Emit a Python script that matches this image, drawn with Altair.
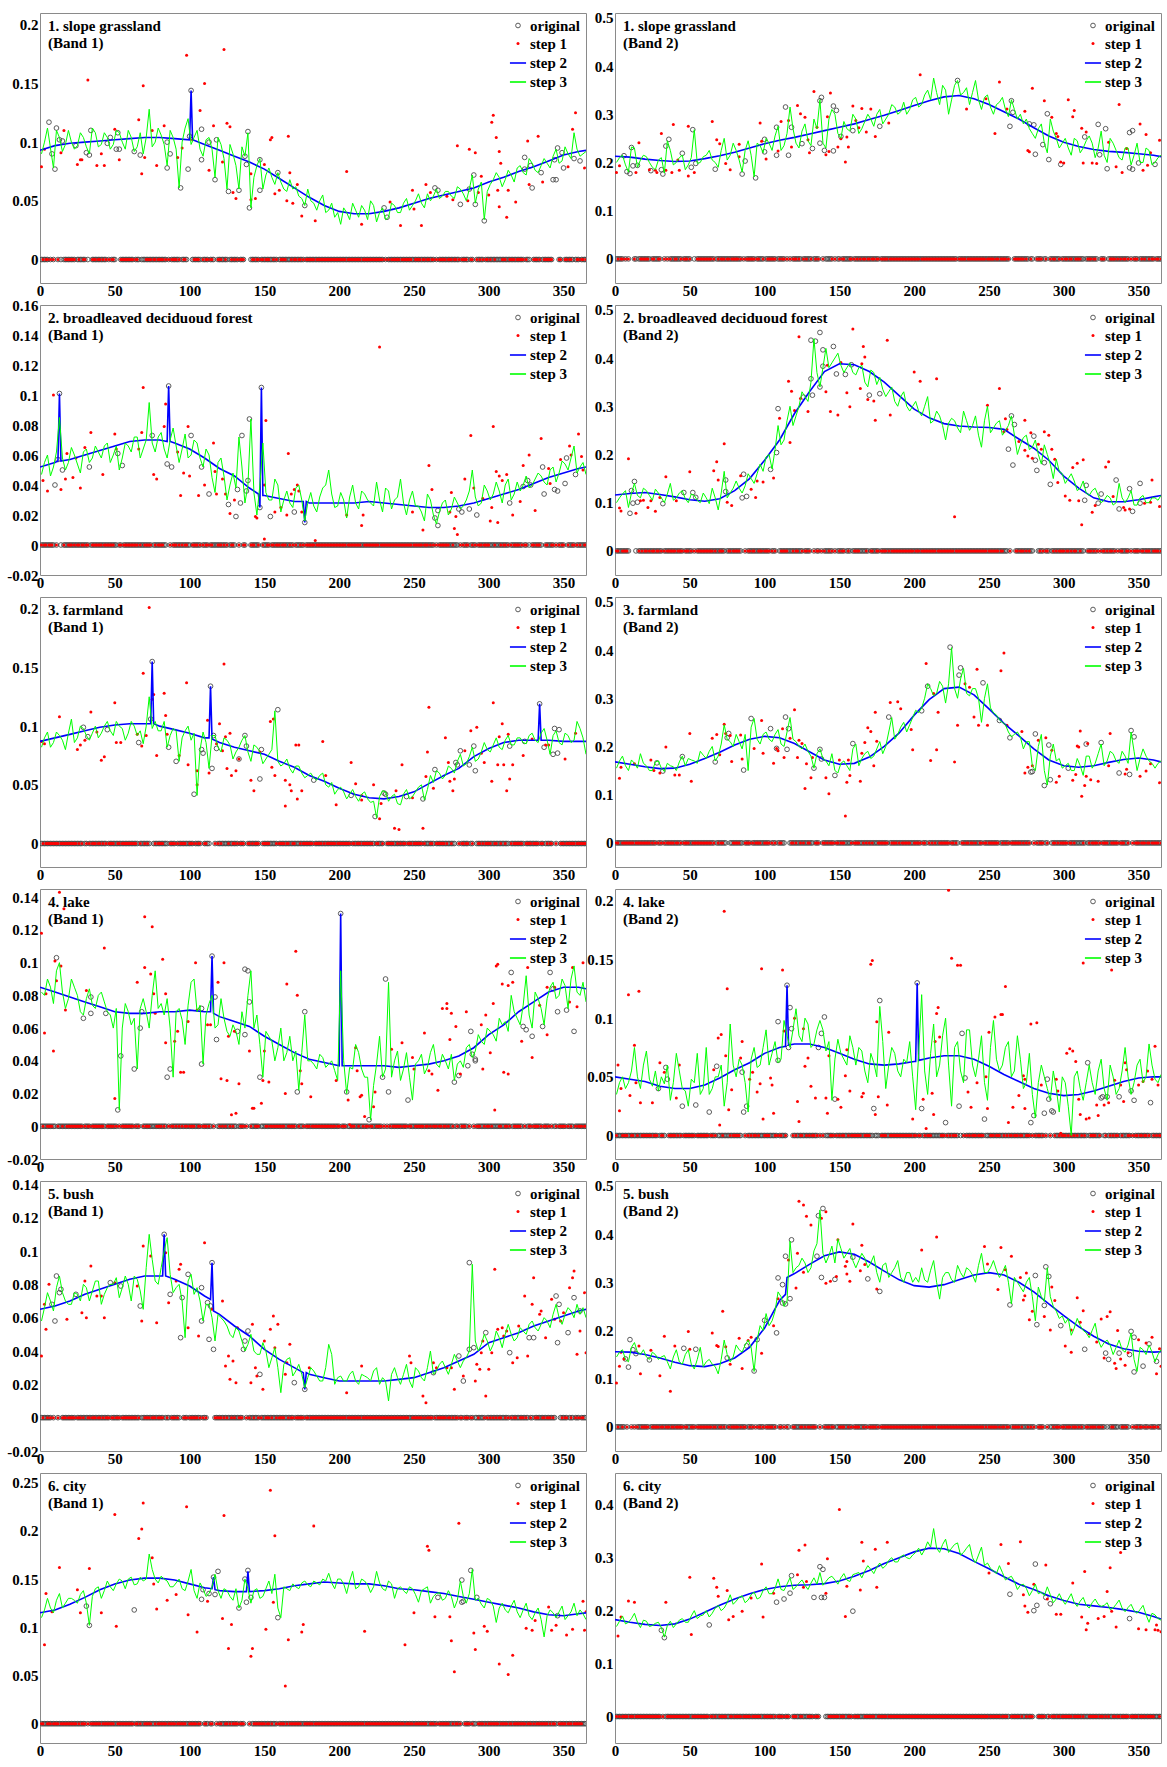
import altair as alt
import pandas as pd

SERIES = ["original", "step 1", "step 2", "step 3"]
SERIES_COLORS = ["#4a4a4a", "#ff0000", "#0000ff", "#00ff00"]
SERIES_FILLS = ["transparent", "#ff0000", "#0000ff", "#00ff00"]
SERIES_SHAPES = ["circle", "circle", "stroke", "stroke"]
SERIES_SIZES = [22, 9, 260, 260]
SERIES_STROKES = [0.9, 0, 1.6, 1.6]
FONT = "Liberation Serif"

X_TICKS = [0, 50, 100, 150, 200, 250, 300, 350]
DAYS = list(range(1, 366))
DAYS_STEP2 = list(range(0, 361, 10)) + [365]
DAYS_STEP3 = list(range(1, 366, 4))
DAYS_STEP3B = list(range(3, 364, 4))

# ---------------- 1. slope grassland, Band 1 ----------------
P1_ORIG = [[6,.117],[8,.090],[10,.077],[11,.112],[13,.102],[15,.101],[24,.097],[31,.091],[33,.089],[34,.110],[45,.099],[47,.104],[51,.094],[52,.108],[53,.094],[63,.092],[67,.089],[85,.078],[85,.100],[87,.090],[94,.061],[99,.077],[100,.105],[101,.144],[108,.111],[108,.085],[113,.100],[117,.068],[118,.102],[126,.058],[133,.059],[137,.088],[138,.081],[139,.109],[140,.044],[147,.085],[147,.059],[159,.074],[177,.046],[230,.044],[232,.036],[264,.061],[266,.059],[281,.047],[287,.060],[290,.072],[291,.047],[297,.033],[324,.087],[324,.077],[328,.080],[329,.061],[335,.074],[343,.068],[344,.085],[345,.068],[346,.095],[349,.091],[350,.078],[357,.086],[361,.084]]
P1_S1 = [[1,.079],[3,.094],[14,.091],[16,.110],[25,.081],[27,.085],[28,.085],[32,.153],[38,.080],[41,.090],[43,.080],[50,.111],[53,.085],[66,.119],[68,.073],[69,.148],[70,.087],[75,.110],[78,.080],[83,.114],[92,.087],[95,.095],[98,.174],[102,.102],[107,.127],[110,.150],[113,.076],[116,.114],[123,.179],[122,.083],[125,.116],[127,.113],[129,.057],[131,.052],[141,.073],[141,.051],[144,.052],[150,.081],[154,.102],[155,.104],[157,.056],[160,.059],[165,.050],[166,.105],[167,.074],[169,.048],[172,.064],[175,.037],[184,.033],[205,.075],[215,.030],[234,.049],[241,.029],[249,.059],[250,.043],[255,.029],[258,.064],[261,.057],[272,.054],[276,.051],[279,.097],[286,.050],[287,.094],[291,.091],[293,.057],[295,.071],[300,.055],[302,.117],[303,.123],[305,.104],[306,.059],[307,.045],[307,.092],[308,.082],[312,.036],[313,.059],[318,.049],[326,.101],[327,.064],[333,.105],[336,.066],[353,.079],[356,.111],[358,.125],[364,.078]]
P1_S2 = [.093,.097,.099,.100,.101,.102,.103,.104,.104,.103,.102,.098,.093,.088,.083,.077,.069,.061,.053,.046,.041,.039,.039,.041,.044,.048,.052,.055,.058,.061,.066,.070,.075,.079,.084,.089,.092,.093]
P1_S2_SPIKES = [[100,.102],[101,.144],[102,.102]]
P1_S3 = [.090,.112,.078,.104,.098,.100,.097,.104,.090,.108,.098,.104,.098,.108,.094,.104,.096,.090,.128,.100,.106,.080,.104,.061,.112,.098,.110,.088,.104,.070,.098,.060,.090,.060,.088,.044,.080,.060,.078,.064,.066,.058,.060,.054,.046,.050,.042,.055,.042,.036,.030,.040,.048,.036,.042,.050,.032,.044,.036,.046,.040,.052,.046,.056,.044,.050,.060,.054,.058,.052,.060,.050,.072,.060,.034,.064,.074,.062,.076,.066,.080,.072,.082,.074,.086,.078,.094,.084,.090,.108,.088,.092]
P1_S3B = [.100,.095,.110,.092,.110,.094,.108,.096,.112,.096,.108,.094,.110,.100,.110,.092,.108,.104,.096,.112,.098,.110,.094,.100,.120,.104,.094,.102,.094,.104,.086,.098,.080,.096,.108,.070,.086,.072,.070,.074,.060,.068,.062,.052,.060,.048,.050,.040,.048,.040,.044,.034,.042,.046,.034,.046,.040,.034,.048,.040,.048,.042,.050,.048,.056,.054,.052,.058,.054,.062,.056,.060,.048,.066,.058,.068,.070,.068,.072,.078,.074,.086,.076,.080,.082,.088,.082,.096,.086,.094,.090]

# ---------------- 1. slope grassland, Band 2 ----------------
P2_ORIG = [[6,.214],[8,.181],[10,.177],[11,.231],[12,.193],[15,.194],[24,.183],[31,.185],[32,.176],[34,.234],[36,.248],[45,.219],[51,.190],[52,.268],[54,.198],[67,.186],[85,.176],[87,.203],[94,.168],[100,.248],[100,.222],[108,.215],[108,.273],[114,.315],[116,.215],[118,.273],[125,.239],[132,.229],[137,.328],[138,.335],[137,.240],[140,.225],[146,.317],[146,.224],[148,.308],[151,.254],[159,.266],[177,.275],[229,.370],[265,.328],[264,.275],[266,.304],[277,.280],[280,.278],[281,.217],[286,.237],[289,.301],[290,.206],[298,.196],[314,.253],[323,.279],[324,.216],[328,.270],[329,.187],[344,.262],[346,.266],[344,.189],[346,.186],[350,.199],[361,.196]]
P2_S1 = [[1,.179],[3,.193],[14,.179],[16,.241],[23,.185],[27,.184],[28,.179],[31,.260],[34,.184],[38,.179],[39,.279],[42,.205],[43,.184],[49,.172],[49,.275],[53,.179],[65,.285],[68,.247],[70,.239],[74,.198],[77,.185],[83,.212],[83,.238],[97,.282],[98,.244],[101,.207],[109,.224],[111,.285],[116,.287],[118,.232],[122,.318],[124,.301],[127,.294],[129,.247],[130,.220],[133,.347],[135,.273],[141,.216],[142,.295],[144,.344],[143,.223],[149,.232],[151,.249],[154,.201],[155,.253],[156,.232],[159,.317],[161,.287],[163,.272],[165,.312],[168,.263],[171,.311],[174,.254],[183,.282],[204,.382],[235,.311],[248,.332],[254,.260],[257,.367],[262,.311],[274,.306],[276,.225],[277,.222],[279,.354],[287,.328],[292,.294],[295,.260],[296,.254],[298,.201],[300,.199],[303,.330],[306,.295],[307,.308],[312,.271],[313,.199],[315,.263],[319,.199],[322,.198],[330,.242],[335,.191],[337,.320],[339,.179],[342,.229],[351,.280],[353,.184],[355,.258],[356,.194],[358,.220],[364,.246]]
P2_S2 = [.213,.211,.207,.204,.202,.203,.208,.214,.221,.230,.239,.246,.252,.259,.266,.273,.280,.289,.298,.308,.318,.328,.336,.339,.332,.320,.305,.290,.272,.255,.242,.233,.227,.223,.221,.218,.215,.212]
P2_S2_SPIKES = []
P2_S3 = [.200,.215,.180,.230,.205,.212,.190,.205,.178,.225,.200,.215,.195,.268,.200,.215,.205,.190,.250,.215,.225,.180,.245,.170,.235,.250,.225,.275,.235,.315,.240,.265,.245,.290,.330,.230,.310,.260,.285,.265,.290,.270,.300,.275,.310,.290,.320,.300,.325,.310,.335,.320,.350,.375,.320,.350,.330,.370,.345,.320,.370,.310,.340,.300,.325,.310,.330,.290,.280,.270,.250,.280,.220,.265,.230,.250,.215,.245,.230,.255,.210,.265,.200,.240,.210,.230,.195,.240,.200,.225,.200,.215]
P2_S3B = [.210,.195,.232,.190,.215,.200,.185,.210,.245,.195,.210,.185,.210,.198,.212,.225,.200,.225,.205,.240,.205,.225,.215,.240,.220,.240,.255,.225,.260,.270,.230,.280,.235,.270,.240,.290,.300,.250,.270,.300,.260,.285,.290,.300,.280,.300,.315,.305,.300,.330,.315,.340,.330,.345,.360,.300,.360,.340,.355,.345,.330,.335,.315,.320,.335,.295,.310,.300,.290,.260,.270,.240,.290,.250,.240,.230,.250,.220,.245,.240,.230,.215,.250,.225,.205,.230,.215,.200,.230,.195,.210]

# ---------------- 2. broadleaved deciduoud forest, Band 1 ----------------
P3_ORIG = [[10,.040],[12,.057],[13,.101],[15,.050],[33,.052],[52,.061],[55,.053],[75,.073],[85,.054],[86,.106],[88,.052],[101,.073],[108,.052],[113,.034],[126,.027],[131,.019],[132,.037],[134,.028],[135,.073],[138,.036],[139,.043],[140,.084],[147,.025],[148,.105],[154,.019],[170,.022],[177,.015],[264,.018],[266,.023],[266,.013],[280,.024],[282,.022],[287,.024],[292,.020],[314,.028],[323,.039],[326,.043],[328,.040],[336,.052],[337,.034],[344,.037],[346,.036],[351,.041],[352,.058],[358,.047]]
P3_S1 = [[2,.043],[5,.036],[9,.100],[14,.037],[17,.044],[18,.061],[22,.045],[24,.058],[27,.038],[30,.065],[34,.075],[42,.047],[50,.074],[51,.064],[66,.064],[69,.105],[68,.075],[76,.047],[78,.044],[83,.079],[84,.094],[92,.062],[94,.033],[96,.048],[99,.079],[100,.046],[106,.033],[110,.040],[116,.068],[117,.049],[118,.034],[122,.044],[124,.034],[127,.021],[130,.030],[144,.019],[145,.018],[150,.004],[150,.040],[151,.083],[157,.022],[161,.025],[165,.020],[166,.061],[168,.034],[170,.037],[172,.040],[173,.036],[175,.022],[184,.003],[205,.020],[215,.013],[216,.020],[227,.132],[249,.022],[256,.010],[260,.053],[262,.037],[274,.022],[275,.035],[277,.011],[278,.019],[279,.007],[284,.044],[288,.073],[290,.038],[296,.031],[301,.016],[302,.025],[303,.079],[305,.049],[306,.015],[307,.046],[309,.043],[312,.047],[316,.020],[321,.029],[323,.053],[327,.060],[331,.023],[335,.071],[340,.051],[341,.041],[348,.057],[354,.066],[355,.060],[360,.074],[362,.059],[363,.050]]
P3_S2 = [.052,.055,.057,.060,.063,.066,.069,.070,.070,.068,.064,.058,.051,.046,.038,.033,.031,.029,.028,.028,.028,.028,.029,.028,.027,.026,.025,.025,.026,.028,.031,.034,.037,.041,.045,.048,.051,.052]
P3_S2_SPIKES = [[12,.056],[13,.101],[14,.056],[85,.069],[86,.106],[87,.069],[146,.034],[147,.025],[148,.105],[149,.033],[176,.029],[177,.015],[178,.029]]
P3_S3 = [.047,.060,.052,.085,.050,.065,.054,.062,.055,.066,.058,.068,.060,.050,.068,.062,.072,.064,.095,.062,.075,.058,.078,.055,.074,.060,.068,.052,.060,.035,.058,.030,.048,.072,.028,.084,.020,.068,.030,.044,.022,.036,.025,.040,.016,.035,.022,.038,.050,.025,.035,.018,.040,.024,.034,.028,.042,.022,.036,.030,.044,.020,.036,.026,.016,.030,.014,.028,.020,.032,.024,.030,.050,.026,.040,.030,.042,.028,.044,.034,.036,.046,.040,.048,.042,.050,.042,.056,.050,.066,.052,.047]
P3_S3B = [.055,.046,.062,.058,.055,.060,.048,.064,.058,.062,.066,.055,.066,.058,.066,.072,.058,.070,.068,.072,.064,.070,.066,.064,.058,.070,.058,.064,.045,.055,.046,.040,.038,.052,.040,.035,.040,.035,.030,.040,.030,.028,.038,.030,.028,.026,.032,.040,.034,.026,.030,.032,.028,.036,.030,.026,.030,.038,.024,.032,.028,.030,.026,.022,.034,.020,.022,.030,.024,.028,.026,.036,.032,.028,.036,.034,.036,.040,.030,.042,.040,.038,.044,.046,.040,.052,.048,.054,.058,.048,.055]

# ---------------- 2. broadleaved deciduoud forest, Band 2 ----------------
P4_ORIG = [[10,.078],[11,.125],[12,.099],[13,.144],[15,.101],[32,.098],[46,.121],[52,.121],[54,.111],[74,.147],[74,.123],[85,.110],[86,.159],[88,.113],[104,.169],[108,.204],[109,.295],[126,.319],[131,.357],[132,.323],[131,.437],[134,.435],[137,.453],[137,.340],[139,.417],[139,.383],[146,.424],[148,.367],[154,.366],[158,.386],[170,.323],[177,.326],[263,.211],[265,.280],[266,.178],[267,.262],[280,.238],[281,.188],[282,.167],[287,.183],[291,.138],[314,.105],[315,.136],[323,.099],[325,.118],[335,.147],[337,.087],[344,.129],[346,.082],[351,.140],[351,.099]]
P4_S1 = [[3,.089],[4,.083],[9,.191],[14,.078],[17,.104],[19,.105],[22,.090],[24,.104],[27,.082],[30,.111],[34,.154],[41,.104],[50,.164],[66,.166],[68,.185],[69,.147],[73,.222],[75,.101],[78,.094],[84,.156],[91,.128],[94,.111],[95,.145],[99,.143],[106,.151],[110,.275],[116,.352],[117,.225],[118,.331],[120,.291],[123,.444],[124,.316],[129,.289],[141,.330],[142,.385],[144,.289],[149,.282],[151,.391],[155,.328],[157,.299],[159,.460],[164,.337],[165,.388],[166,.424],[167,.402],[169,.314],[173,.311],[174,.271],[182,.437],[184,.282],[200,.371],[204,.352],[215,.357],[227,.071],[249,.302],[257,.337],[260,.247],[261,.274],[262,.252],[270,.227],[274,.271],[274,.209],[276,.197],[278,.245],[279,.192],[283,.221],[285,.211],[287,.247],[290,.240],[292,.211],[294,.190],[296,.142],[301,.114],[304,.105],[306,.173],[309,.182],[310,.104],[312,.054],[313,.189],[319,.080],[321,.094],[328,.174],[330,.185],[333,.113],[340,.090],[341,.085],[344,.087],[354,.099],[358,.101],[359,.147],[364,.092]]
P4_S2 = [.116,.119,.121,.117,.112,.106,.103,.108,.125,.150,.188,.230,.285,.330,.372,.388,.386,.372,.350,.322,.294,.276,.264,.259,.257,.256,.252,.232,.213,.188,.155,.130,.110,.102,.102,.106,.112,.115]
P4_S2_SPIKES = []
P4_S3 = [.100,.118,.090,.140,.110,.125,.105,.120,.100,.140,.110,.125,.100,.115,.100,.110,.130,.085,.165,.120,.145,.120,.160,.140,.180,.195,.170,.260,.230,.300,.280,.330,.310,.440,.340,.420,.390,.410,.370,.390,.365,.385,.340,.370,.360,.320,.340,.300,.330,.290,.310,.280,.320,.270,.280,.230,.275,.255,.290,.250,.280,.215,.300,.255,.270,.250,.280,.200,.235,.210,.230,.180,.200,.150,.165,.140,.160,.125,.145,.115,.130,.100,.115,.095,.140,.100,.125,.095,.115,.100,.110,.115]
P4_S3B = [.110,.125,.120,.115,.130,.115,.128,.110,.118,.105,.120,.108,.118,.105,.120,.098,.110,.120,.110,.130,.130,.135,.150,.160,.165,.200,.210,.220,.270,.260,.300,.320,.350,.370,.380,.380,.400,.385,.380,.370,.380,.350,.375,.345,.335,.330,.310,.320,.300,.300,.290,.300,.265,.290,.260,.265,.270,.245,.270,.260,.240,.270,.245,.265,.240,.260,.240,.220,.240,.215,.200,.220,.180,.190,.160,.150,.145,.130,.120,.125,.115,.105,.110,.100,.110,.110,.095,.110,.100,.110,.105]

# ---------------- 3. farmland, Band 1 ----------------
P5_ORIG = [[29,.099],[32,.091],[45,.097],[66,.086],[74,.106],[75,.155],[86,.082],[91,.070],[103,.042],[108,.080],[109,.077],[114,.134],[115,.064],[116,.092],[118,.081],[133,.072],[137,.092],[138,.083],[147,.055],[148,.080],[159,.114],[183,.054],[208,.041],[224,.023],[230,.043],[231,.042],[245,.040],[256,.038],[264,.063],[278,.069],[279,.067],[281,.079],[287,.067],[290,.083],[291,.062],[314,.083],[324,.087],[334,.119],[337,.082],[343,.076],[344,.098],[346,.077],[347,.097]]
P5_S1 = [[1,.087],[3,.085],[13,.108],[25,.080],[27,.084],[30,.088],[34,.112],[38,.095],[41,.071],[43,.074],[50,.120],[51,.086],[54,.086],[65,.093],[68,.083],[69,.145],[71,.092],[73,.201],[75,.123],[76,.127],[78,.075],[83,.128],[84,.109],[85,.093],[93,.075],[98,.137],[99,.067],[105,.050],[105,.062],[112,.105],[113,.060],[118,.085],[120,.102],[122,.079],[123,.153],[124,.091],[125,.064],[127,.094],[128,.058],[131,.062],[133,.072],[141,.054],[143,.045],[147,.078],[154,.104],[156,.106],[155,.065],[157,.058],[164,.054],[164,.032],[167,.050],[168,.045],[171,.084],[173,.084],[172,.038],[175,.045],[189,.087],[191,.058],[198,.033],[208,.069],[211,.051],[215,.041],[215,.037],[223,.050],[227,.021],[228,.034],[237,.013],[238,.045],[240,.012],[242,.067],[249,.039],[256,.013],[258,.057],[259,.078],[260,.116],[263,.047],[271,.090],[273,.069],[274,.053],[276,.045],[277,.055],[284,.079],[288,.096],[292,.099],[295,.077],[297,.069],[302,.053],[303,.120],[306,.067],[307,.091],[309,.102],[310,.067],[312,.045],[313,.093],[314,.055],[316,.067],[323,.075],[329,.089],[338,.084],[340,.084],[351,.072],[358,.094]]
P5_S2 = [.087,.090,.093,.096,.099,.101,.102,.102,.100,.097,.094,.090,.086,.082,.079,.076,.070,.065,.058,.053,.047,.042,.039,.038,.040,.044,.051,.058,.064,.074,.081,.086,.088,.088,.088,.087,.087,.087]
P5_S2_SPIKES = [[74,.102],[75,.155],[76,.102],[113,.090],[114,.134],[115,.089],[333,.088],[334,.119],[335,.088]]
P5_S3 = [.082,.095,.086,.092,.080,.106,.090,.098,.088,.100,.094,.104,.092,.100,.088,.104,.092,.085,.125,.104,.096,.082,.098,.070,.096,.088,.041,.095,.064,.092,.078,.088,.072,.082,.092,.070,.082,.068,.076,.113,.066,.072,.060,.066,.056,.060,.054,.060,.048,.042,.048,.038,.046,.036,.044,.035,.022,.045,.036,.042,.033,.046,.040,.048,.037,.058,.062,.055,.066,.060,.076,.068,.082,.072,.086,.078,.090,.080,.092,.084,.090,.085,.094,.086,.098,.076,.096,.084,.092,.088,.098,.076]
P5_S3B = [.090,.082,.095,.088,.094,.086,.100,.092,.094,.090,.100,.096,.104,.098,.094,.100,.096,.100,.098,.096,.104,.092,.096,.090,.100,.094,.080,.086,.092,.082,.090,.084,.078,.088,.078,.084,.078,.072,.080,.070,.068,.064,.066,.060,.058,.056,.058,.050,.052,.046,.044,.042,.040,.042,.038,.036,.040,.044,.040,.034,.042,.038,.044,.050,.046,.052,.060,.058,.064,.070,.066,.074,.070,.078,.080,.084,.082,.088,.084,.090,.086,.092,.088,.094,.088,.092,.086,.094,.086,.104,.090]

# ---------------- 3. farmland, Band 2 ----------------
P6_ORIG = [[28,.166],[32,.149],[45,.179],[67,.168],[75,.218],[76,.227],[86,.151],[91,.258],[104,.237],[108,.196],[114,.261],[115,.194],[116,.237],[133,.155],[137,.194],[138,.174],[147,.140],[159,.206],[183,.261],[205,.274],[209,.325],[224,.406],[230,.348],[231,.363],[246,.332],[257,.254],[264,.218],[278,.147],[279,.148],[281,.226],[287,.119],[290,.203],[291,.131],[303,.155],[315,.205],[325,.208],[337,.145],[344,.142],[345,.233],[347,.220]]
P6_S1 = [[3,.134],[4,.157],[13,.164],[24,.172],[26,.150],[30,.145],[34,.199],[40,.141],[43,.141],[50,.227],[51,.128],[65,.217],[68,.225],[70,.183],[73,.246],[74,.227],[77,.223],[78,.169],[84,.224],[85,.174],[93,.196],[98,.254],[99,.186],[106,.165],[108,.196],[109,.191],[112,.237],[113,.177],[117,.217],[120,.276],[122,.177],[123,.213],[125,.206],[127,.113],[128,.164],[131,.135],[132,.177],[141,.135],[143,.102],[150,.172],[154,.056],[155,.126],[156,.172],[157,.140],[164,.128],[165,.186],[167,.208],[169,.239],[171,.231],[173,.160],[174,.271],[175,.211],[184,.291],[189,.293],[191,.278],[198,.235],[199,.193],[208,.372],[211,.171],[213,.310],[215,.193],[216,.271],[227,.168],[229,.244],[234,.330],[237,.323],[242,.360],[240,.261],[243,.244],[249,.244],[258,.357],[260,.394],[262,.244],[272,.231],[274,.145],[276,.157],[279,.160],[283,.213],[288,.218],[292,.192],[295,.126],[297,.138],[306,.130],[308,.142],[309,.201],[310,.199],[311,.232],[312,.097],[314,.119],[315,.138],[318,.131],[316,.206],[323,.128],[330,.160],[331,.227],[341,.143],[342,.153],[351,.138],[355,.149],[358,.164],[364,.125]]
P6_S2 = [.168,.163,.158,.154,.155,.163,.175,.188,.203,.215,.221,.218,.206,.189,.172,.163,.165,.178,.200,.228,.265,.297,.320,.323,.307,.278,.248,.222,.195,.172,.160,.157,.160,.167,.173,.176,.172,.168]
P6_S2_SPIKES = []
P6_S3 = [.155,.180,.150,.165,.185,.160,.150,.170,.148,.160,.150,.180,.175,.170,.190,.175,.200,.180,.245,.210,.225,.195,.150,.258,.205,.230,.210,.235,.200,.260,.210,.195,.190,.155,.195,.170,.185,.145,.170,.150,.205,.175,.190,.180,.210,.200,.260,.225,.250,.245,.275,.280,.330,.305,.335,.290,.405,.300,.362,.305,.320,.250,.330,.270,.255,.245,.220,.230,.195,.210,.150,.225,.120,.205,.175,.160,.150,.175,.140,.180,.165,.205,.170,.185,.165,.180,.230,.150,.195,.170,.155,.170]
P6_S3B = [.170,.160,.172,.155,.165,.150,.168,.155,.165,.158,.168,.160,.172,.165,.182,.190,.170,.205,.215,.200,.210,.225,.240,.215,.225,.215,.225,.205,.230,.215,.200,.205,.180,.185,.175,.160,.150,.165,.160,.195,.160,.185,.175,.195,.185,.230,.215,.240,.230,.260,.270,.300,.320,.310,.325,.330,.320,.340,.310,.320,.300,.300,.280,.265,.250,.230,.225,.220,.210,.160,.200,.150,.180,.170,.155,.165,.150,.160,.180,.155,.185,.160,.190,.170,.190,.165,.190,.175,.180,.165,.165]

# ---------------- 4. lake, Band 1 ----------------
P7_ORIG = [[11,.103],[29,.066],[34,.069],[34,.079],[44,.069],[52,.010],[54,.043],[63,.035],[67,.060],[68,.070],[85,.030],[87,.035],[108,.072],[108,.038],[115,.104],[117,.079],[118,.053],[132,.058],[137,.056],[137,.096],[139,.095],[140,.076],[147,.030],[172,.021],[177,.070],[201,.130],[205,.021],[220,.004],[229,.030],[231,.090],[233,.021],[246,.016],[277,.027],[280,.031],[286,.037],[288,.058],[289,.044],[291,.041],[291,.040],[315,.094],[323,.061],[325,.059],[329,.055],[336,.061],[341,.094],[343,.084],[346,.070],[352,.071],[357,.058]]
P7_S1 = [[1,.118],[3,.057],[4,.081],[9,.046],[10,.101],[11,.089],[13,.143],[14,.098],[16,.133],[17,.071],[31,.083],[43,.109],[50,.017],[65,.088],[70,.097],[70,.128],[74,.093],[75,.122],[76,.081],[77,.069],[82,.102],[84,.081],[84,.051],[90,.052],[92,.058],[94,.033],[96,.033],[99,.064],[104,.100],[105,.071],[112,.062],[114,.062],[119,.088],[121,.029],[123,.100],[125,.028],[126,.055],[128,.007],[130,.058],[131,.008],[133,.026],[140,.046],[142,.011],[143,.011],[148,.014],[149,.028],[150,.046],[153,.027],[164,.020],[165,.087],[171,.107],[172,.080],[174,.034],[175,.026],[181,.018],[198,.028],[206,.016],[207,.001],[211,.048],[212,.034],[214,.018],[215,.019],[217,.006],[223,.012],[224,.021],[235,.047],[242,.051],[249,.042],[250,.035],[257,.057],[260,.034],[262,.032],[266,.022],[269,.072],[272,.075],[272,.072],[274,.053],[275,.069],[278,.061],[281,.032],[285,.070],[295,.062],[296,.035],[298,.068],[301,.045],[303,.075],[304,.010],[305,.098],[306,.099],[309,.087],[310,.033],[313,.086],[313,.032],[316,.088],[322,.052],[326,.097],[329,.042],[334,.074],[339,.056],[339,.085],[344,.085],[354,.076],[356,.097],[359,.073],[363,.100]]
P7_S2 = [.085,.082,.079,.076,.073,.070,.069,.069,.070,.070,.071,.070,.067,.064,.061,.055,.050,.045,.041,.039,.037,.037,.037,.037,.036,.037,.038,.040,.043,.048,.056,.062,.070,.076,.082,.085,.085,.084]
P7_S2_SPIKES = [[114,.070],[115,.104],[116,.069],[200,.037],[201,.130],[202,.037]]
P7_S3 = [.082,.090,.075,.100,.072,.090,.080,.068,.084,.072,.082,.070,.060,.010,.075,.062,.035,.078,.060,.095,.075,.078,.030,.072,.050,.088,.070,.038,.075,.060,.078,.058,.062,.050,.060,.095,.068,.030,.055,.040,.060,.045,.040,.022,.068,.040,.035,.042,.038,.034,.095,.020,.035,.045,.030,.004,.038,.030,.088,.040,.028,.045,.016,.040,.032,.045,.038,.044,.035,.028,.040,.048,.042,.056,.050,.058,.052,.062,.058,.070,.062,.092,.060,.078,.062,.085,.078,.090,.072,.098,.080,.076]
P7_S3B = [.080,.085,.095,.082,.078,.085,.070,.078,.074,.080,.076,.068,.072,.060,.070,.066,.072,.070,.080,.072,.068,.060,.070,.065,.074,.090,.074,.068,.080,.062,.066,.055,.058,.070,.080,.060,.050,.058,.052,.048,.040,.055,.046,.045,.040,.038,.044,.036,.040,.028,.040,.036,.050,.035,.030,.025,.055,.035,.030,.046,.035,.030,.038,.044,.036,.050,.036,.040,.044,.038,.036,.050,.046,.052,.060,.056,.066,.064,.080,.066,.074,.068,.082,.072,.078,.088,.080,.086,.090,.082,.088]

# ---------------- 4. lake, Band 2 ----------------
P8_ORIG = [[29,.040],[34,.058],[35,.048],[45,.025],[54,.026],[63,.020],[68,.059],[85,.054],[86,.020],[88,.025],[109,.064],[109,.097],[115,.128],[116,.075],[117,.109],[118,.091],[136,.075],[138,.087],[140,.101],[147,.031],[173,.023],[177,.115],[202,.130],[205,.023],[221,.011],[230,.025],[232,.087],[234,.049],[247,.014],[278,.011],[280,.017],[287,.019],[289,.048],[290,.031],[292,.021],[293,.020],[316,.062],[325,.032],[326,.033],[329,.033],[337,.033],[345,.038],[347,.030],[358,.028]]
P8_S1 = [[2,.060],[3,.021],[4,.040],[9,.120],[10,.034],[13,.077],[14,.045],[16,.123],[17,.028],[25,.028],[30,.062],[33,.054],[41,.032],[43,.060],[66,.056],[69,.083],[70,.009],[71,.086],[74,.068],[73,.191],[75,.125],[76,.022],[78,.039],[84,.066],[85,.080],[90,.048],[92,.054],[95,.037],[97,.044],[98,.142],[99,.014],[104,.049],[105,.043],[106,.019],[112,.141],[113,.089],[120,.100],[122,.029],[123,.012],[126,.091],[127,.059],[129,.066],[131,.042],[134,.032],[141,.032],[142,.019],[143,.068],[149,.031],[151,.024],[154,.051],[155,.073],[157,.038],[165,.033],[166,.036],[171,.146],[172,.149],[174,.018],[175,.097],[176,.033],[182,.026],[183,.088],[199,.014],[206,.031],[208,.006],[212,.036],[213,.018],[214,.080],[215,.104],[216,.109],[217,.084],[223,.209],[225,.151],[229,.145],[231,.145],[236,.037],[238,.024],[242,.045],[248,.050],[249,.023],[250,.088],[254,.101],[258,.103],[259,.103],[261,.127],[263,.011],[266,.024],[270,.034],[273,.051],[274,.048],[274,.023],[278,.095],[282,.096],[285,.043],[295,.048],[296,.038],[298,.002],[302,.070],[304,.074],[306,.072],[308,.063],[310,.031],[311,.018],[313,.147],[315,.014],[317,.015],[322,.026],[323,.017],[327,.026],[330,.028],[332,.141],[334,.047],[338,.043],[340,.029],[341,.062],[342,.056],[350,.043],[353,.046],[356,.055],[359,.048],[361,.076],[363,.043]]
P8_S2 = [.050,.048,.046,.042,.040,.040,.043,.049,.056,.062,.070,.075,.078,.078,.075,.070,.065,.061,.060,.061,.063,.066,.068,.068,.065,.059,.052,.046,.040,.036,.034,.035,.038,.042,.046,.049,.050,.050]
P8_S2_SPIKES = [[114,.076],[115,.128],[116,.077],[201,.063],[202,.130],[203,.064]]
P8_S3 = [.035,.050,.045,.075,.040,.072,.042,.038,.044,.030,.070,.040,.025,.045,.035,.075,.040,.050,.025,.095,.050,.060,.020,.075,.060,.090,.070,.062,.098,.075,.108,.080,.095,.078,.098,.072,.030,.082,.065,.085,.060,.072,.045,.062,.110,.040,.075,.055,.065,.080,.022,.120,.035,.095,.060,.100,.025,.080,.045,.090,.050,.085,.030,.098,.055,.075,.050,.085,.040,.070,.015,.060,.040,.055,.020,.045,.000,.055,.030,.060,.035,.065,.030,.050,.040,.075,.035,.060,.045,.078,.048,.052]
P8_S3B = [.045,.040,.055,.050,.060,.048,.055,.050,.060,.045,.055,.038,.048,.070,.040,.035,.050,.060,.045,.060,.065,.045,.065,.058,.075,.060,.080,.065,.085,.090,.085,.100,.075,.090,.090,.080,.065,.070,.060,.075,.075,.055,.070,.050,.080,.060,.070,.050,.062,.050,.070,.055,.070,.050,.085,.060,.075,.055,.090,.060,.065,.045,.075,.065,.060,.080,.055,.065,.045,.035,.045,.050,.030,.040,.050,.025,.050,.040,.045,.045,.055,.040,.060,.035,.055,.050,.045,.065,.050,.060,.045]

# ---------------- 5. bush, Band 1 ----------------
P9_ORIG = [[8,.068],[10,.058],[11,.085],[13,.075],[14,.077],[24,.074],[47,.081],[54,.079],[67,.067],[83,.110],[87,.074],[94,.048],[95,.072],[99,.086],[108,.078],[108,.058],[112,.069],[113,.047],[114,.067],[115,.093],[116,.041],[136,.041],[137,.046],[139,.052],[147,.026],[170,.021],[177,.017],[263,.027],[280,.037],[283,.022],[287,.041],[287,.093],[290,.042],[298,.051],[314,.039],[327,.048],[330,.048],[345,.073],[346,.045],[347,.068],[353,.051],[357,.072],[361,.064]]
P9_S1 = [[1,.037],[3,.068],[4,.053],[6,.080],[18,.059],[28,.063],[30,.082],[31,.060],[34,.091],[38,.073],[41,.073],[43,.060],[50,.081],[65,.079],[68,.058],[69,.103],[74,.097],[78,.057],[84,.099],[86,.069],[91,.082],[93,.089],[94,.092],[99,.054],[106,.049],[110,.105],[115,.065],[122,.070],[124,.031],[126,.037],[127,.023],[129,.034],[131,.021],[132,.054],[141,.021],[142,.056],[144,.030],[145,.025],[149,.017],[150,.046],[154,.053],[156,.061],[157,.042],[159,.056],[165,.033],[164,.026],[167,.044],[180,.030],[205,.015],[215,.031],[247,.037],[248,.033],[256,.013],[258,.009],[263,.033],[265,.030],[272,.030],[275,.030],[277,.017],[283,.025],[291,.022],[292,.032],[294,.029],[295,.039],[296,.046],[298,.013],[300,.029],[302,.039],[304,.089],[306,.053],[309,.054],[310,.049],[312,.052],[316,.033],[319,.036],[320,.055],[324,.073],[326,.037],[329,.068],[330,.084],[334,.062],[335,.064],[338,.048],[342,.071],[344,.059],[348,.058],[350,.063],[354,.078],[356,.084],[357,.088],[359,.038],[361,.052],[364,.075],[365,.039]]
P9_S2 = [.065,.067,.070,.074,.077,.080,.083,.085,.085,.083,.079,.073,.062,.055,.049,.041,.035,.030,.026,.024,.022,.022,.022,.022,.023,.024,.027,.030,.034,.038,.045,.048,.051,.055,.058,.061,.064,.065]
P9_S2_SPIKES = [[82,.085],[83,.110],[84,.085],[114,.071],[115,.093],[116,.064],[176,.027],[177,.017],[178,.027]]
P9_S3 = [.058,.075,.064,.085,.070,.068,.074,.080,.070,.082,.068,.078,.080,.072,.085,.070,.083,.065,.110,.082,.090,.108,.075,.080,.048,.086,.078,.058,.068,.046,.060,.055,.048,.052,.040,.050,.038,.045,.030,.042,.015,.035,.025,.032,.018,.030,.025,.022,.044,.020,.025,.022,.028,.020,.025,.022,.030,.024,.010,.030,.020,.032,.018,.028,.022,.040,.028,.034,.026,.038,.030,.036,.092,.040,.050,.040,.052,.042,.056,.046,.054,.050,.058,.052,.060,.054,.068,.056,.066,.060,.062,.060]
P9_S3B = [.066,.070,.078,.075,.068,.075,.070,.078,.076,.082,.074,.080,.084,.078,.080,.085,.076,.090,.095,.080,.100,.086,.078,.070,.082,.074,.070,.068,.060,.062,.058,.050,.054,.046,.044,.040,.038,.040,.036,.030,.032,.036,.028,.026,.024,.028,.022,.030,.038,.024,.022,.026,.022,.026,.024,.028,.020,.022,.026,.024,.026,.022,.030,.024,.030,.026,.032,.030,.032,.034,.034,.040,.046,.044,.046,.044,.048,.050,.050,.048,.052,.056,.054,.056,.058,.062,.060,.062,.064,.068,.066]

# ---------------- 5. bush, Band 2 ----------------
P10_ORIG = [[7,.141],[9,.124],[10,.181],[12,.160],[14,.152],[23,.139],[46,.163],[54,.161],[75,.143],[88,.168],[93,.116],[95,.181],[100,.221],[108,.195],[109,.309],[112,.295],[112,.257],[114,.354],[114,.255],[117,.266],[118,.388],[135,.354],[136,.438],[138,.310],[139,.453],[147,.306],[159,.352],[169,.307],[177,.281],[264,.253],[281,.314],[282,.212],[287,.252],[288,.332],[290,.312],[298,.210],[314,.161],[328,.153],[330,.140],[337,.153],[344,.150],[345,.198],[347,.114],[347,.186],[353,.126],[357,.172],[362,.136]]
P10_S1 = [[1,.091],[3,.126],[4,.155],[6,.141],[16,.168],[17,.110],[24,.159],[30,.106],[33,.188],[37,.074],[40,.168],[49,.198],[50,.161],[65,.195],[68,.169],[69,.167],[72,.240],[74,.166],[77,.130],[83,.184],[85,.121],[89,.179],[91,.186],[98,.153],[106,.210],[109,.266],[116,.346],[121,.288],[122,.360],[123,.468],[126,.321],[126,.460],[128,.437],[131,.419],[138,.433],[141,.446],[141,.298],[144,.302],[148,.312],[149,.388],[154,.333],[155,.343],[155,.317],[157,.302],[159,.421],[164,.324],[165,.377],[167,.337],[175,.286],[205,.367],[215,.394],[247,.374],[249,.338],[256,.285],[258,.372],[261,.326],[265,.354],[271,.310],[273,.263],[274,.272],[275,.319],[277,.222],[279,.240],[287,.229],[291,.201],[292,.290],[294,.262],[301,.168],[305,.155],[305,.201],[309,.268],[311,.217],[313,.241],[317,.193],[322,.176],[325,.224],[327,.143],[329,.229],[331,.239],[334,.132],[335,.121],[336,.200],[338,.141],[341,.128],[343,.154],[350,.181],[355,.174],[359,.186],[362,.110],[364,.162],[365,.126]]
P10_S2 = [.156,.155,.150,.143,.134,.127,.125,.131,.143,.165,.205,.262,.318,.337,.355,.363,.358,.342,.323,.305,.293,.290,.295,.305,.315,.320,.315,.300,.280,.255,.231,.208,.188,.172,.162,.157,.155,.156]
P10_S2_SPIKES = [[114,.275],[115,.310]]
P10_S3 = [.145,.160,.135,.175,.150,.145,.155,.140,.148,.120,.160,.130,.160,.120,.165,.135,.130,.110,.180,.135,.170,.155,.180,.115,.210,.235,.220,.280,.250,.385,.330,.350,.320,.365,.450,.340,.375,.390,.350,.370,.330,.360,.330,.355,.300,.340,.320,.345,.300,.320,.310,.330,.300,.345,.265,.320,.305,.335,.310,.325,.300,.360,.320,.345,.310,.335,.255,.300,.280,.310,.220,.270,.330,.250,.225,.215,.190,.225,.200,.185,.215,.165,.180,.150,.180,.155,.195,.115,.160,.170,.135,.160]
P10_S3B = [.155,.140,.165,.155,.160,.140,.150,.145,.135,.145,.135,.150,.130,.140,.125,.140,.125,.140,.150,.145,.160,.170,.165,.180,.200,.210,.240,.270,.260,.320,.335,.340,.330,.380,.360,.355,.340,.370,.360,.345,.345,.350,.340,.320,.335,.310,.330,.310,.320,.300,.300,.305,.325,.300,.310,.320,.300,.320,.330,.315,.335,.320,.330,.325,.320,.300,.310,.290,.300,.270,.290,.260,.270,.240,.230,.225,.205,.210,.195,.200,.180,.175,.170,.165,.160,.170,.140,.165,.150,.155,.150]

# ---------------- 6. city, Band 1 ----------------
P11_ORIG = [[31,.122],[33,.102],[63,.118],[108,.129],[109,.139],[113,.135],[116,.152],[117,.134],[119,.158],[133,.120],[137,.150],[138,.126],[139,.159],[141,.131],[159,.110],[266,.131],[282,.126],[282,.149],[283,.127],[288,.159],[292,.131],[346,.112]]
P11_S1 = [[3,.082],[4,.135],[8,.116],[13,.162],[25,.139],[27,.115],[33,.161],[41,.115],[50,.217],[51,.101],[66,.192],[68,.202],[69,.229],[75,.172],[76,.145],[78,.119],[85,.128],[91,.134],[98,.225],[99,.113],[105,.095],[112,.127],[122,.109],[123,.216],[126,.078],[128,.103],[141,.070],[142,.078],[151,.098],[154,.242],[156,.126],[157,.195],[164,.039],[166,.087],[175,.095],[176,.103],[183,.205],[217,.096],[244,.082],[250,.115],[259,.184],[260,.180],[264,.111],[274,.111],[275,.086],[277,.054],[280,.208],[290,.094],[291,.077],[297,.101],[299,.096],[307,.062],[313,.051],[316,.071],[325,.099],[329,.097],[331,.107],[340,.121],[342,.097],[345,.102],[352,.092],[356,.098],[363,.127],[364,.097],[365,.116]]
P11_S2 = [.115,.118,.124,.131,.139,.145,.149,.151,.151,.149,.145,.141,.138,.137,.137,.138,.140,.143,.145,.147,.146,.145,.145,.143,.140,.139,.137,.135,.132,.129,.126,.123,.120,.116,.113,.112,.114,.115]
P11_S2_SPIKES = [[115,.140],[116,.152],[117,.139],[138,.137],[139,.158],[140,.137]]
P11_S3 = [.110,.130,.115,.135,.125,.130,.125,.138,.102,.140,.130,.148,.138,.150,.140,.152,.145,.148,.176,.150,.153,.148,.142,.150,.138,.160,.130,.140,.135,.155,.130,.138,.128,.120,.150,.125,.140,.132,.148,.155,.110,.140,.145,.140,.148,.142,.146,.150,.156,.140,.150,.135,.158,.142,.148,.136,.158,.140,.148,.130,.142,.135,.140,.126,.140,.125,.135,.128,.138,.120,.148,.125,.160,.130,.120,.128,.105,.125,.115,.128,.110,.125,.108,.120,.090,.118,.110,.122,.112,.125,.118,.108]
P11_S3B = [.118,.120,.128,.120,.130,.128,.134,.125,.132,.142,.138,.142,.145,.148,.150,.144,.152,.150,.160,.146,.150,.142,.146,.140,.148,.138,.146,.132,.142,.138,.140,.132,.140,.128,.140,.138,.130,.140,.135,.120,.142,.138,.142,.146,.144,.148,.144,.148,.146,.150,.145,.148,.140,.150,.144,.142,.146,.138,.145,.140,.138,.142,.134,.138,.142,.132,.136,.130,.132,.128,.132,.135,.128,.124,.130,.122,.120,.118,.122,.116,.118,.112,.115,.108,.112,.115,.116,.108,.116,.112,.114]

# ---------------- 6. city, Band 2 ----------------
P12_ORIG = [[31,.163],[33,.149],[63,.173],[108,.216],[113,.222],[117,.233],[118,.266],[133,.225],[137,.283],[138,.225],[139,.278],[140,.225],[159,.199],[264,.231],[280,.200],[281,.288],[282,.210],[288,.225],[291,.213],[344,.185]]
P12_S1 = [[2,.152],[4,.188],[9,.218],[13,.216],[34,.216],[50,.263],[51,.155],[66,.261],[68,.244],[69,.227],[75,.238],[76,.183],[79,.189],[85,.199],[91,.224],[98,.288],[99,.188],[106,.233],[123,.314],[127,.324],[122,.268],[128,.255],[126,.244],[141,.233],[142,.298],[150,.391],[154,.189],[155,.246],[164,.239],[165,.329],[166,.294],[174,.316],[175,.244],[182,.329],[250,.271],[258,.325],[263,.289],[271,.330],[273,.230],[274,.209],[276,.197],[280,.250],[288,.286],[289,.222],[295,.193],[298,.193],[306,.252],[312,.188],[314,.274],[315,.164],[316,.176],[323,.185],[327,.189],[329,.236],[331,.281],[332,.199],[338,.310],[335,.169],[350,.166],[355,.164],[361,.164],[362,.173],[363,.163],[365,.160]]
P12_S2 = [.183,.178,.174,.172,.175,.184,.197,.210,.222,.232,.240,.245,.248,.249,.251,.256,.265,.276,.289,.300,.311,.318,.317,.308,.293,.279,.264,.250,.240,.228,.219,.212,.209,.206,.202,.197,.189,.184]
P12_S2_SPIKES = []
P12_S3 = [.170,.190,.178,.195,.168,.180,.172,.178,.150,.180,.175,.185,.178,.200,.190,.200,.195,.210,.205,.230,.218,.228,.220,.235,.225,.245,.232,.260,.238,.262,.245,.258,.240,.262,.272,.255,.265,.250,.270,.255,.270,.262,.285,.270,.290,.285,.300,.292,.305,.298,.310,.305,.330,.355,.310,.335,.318,.328,.310,.325,.290,.320,.290,.275,.285,.258,.265,.240,.250,.228,.250,.235,.245,.215,.232,.212,.232,.208,.225,.205,.222,.208,.215,.205,.220,.198,.212,.195,.210,.178,.192,.182]
P12_S3B = [.180,.175,.185,.178,.182,.170,.176,.168,.172,.168,.182,.178,.190,.185,.192,.188,.205,.200,.215,.212,.225,.215,.230,.222,.238,.232,.242,.240,.250,.240,.252,.248,.252,.250,.248,.262,.258,.262,.258,.268,.272,.275,.278,.282,.280,.295,.292,.302,.300,.305,.318,.315,.320,.318,.325,.310,.325,.305,.318,.300,.305,.285,.280,.270,.272,.262,.255,.248,.242,.238,.232,.228,.230,.222,.220,.222,.215,.218,.210,.215,.212,.210,.202,.212,.205,.206,.200,.202,.192,.195,.185]

T_A = [0, 0.05, 0.1, 0.15, 0.2]
T_B = [0, 0.1, 0.2, 0.3, 0.4, 0.5]
T_C = [-0.02, 0, 0.02, 0.04, 0.06, 0.08, 0.1, 0.12, 0.14, 0.16]
T_D = [-0.02, 0, 0.02, 0.04, 0.06, 0.08, 0.1, 0.12, 0.14]
T_E = [0, 0.05, 0.1, 0.15, 0.2, 0.25]
T_F = [0, 0.1, 0.2, 0.3, 0.4]

PANELS = [
    ("1. slope grassland\n(Band 1)", P1_ORIG, P1_S1, P1_S2, P1_S2_SPIKES, P1_S3, P1_S3B, [-0.02, 0.21], T_A),
    ("1. slope grassland\n(Band 2)", P2_ORIG, P2_S1, P2_S2, P2_S2_SPIKES, P2_S3, P2_S3B, [-0.05, 0.51], T_B),
    ("2. broadleaved deciduoud forest\n(Band 1)", P3_ORIG, P3_S1, P3_S2, P3_S2_SPIKES, P3_S3, P3_S3B, [-0.02, 0.16], T_C),
    ("2. broadleaved deciduoud forest\n(Band 2)", P4_ORIG, P4_S1, P4_S2, P4_S2_SPIKES, P4_S3, P4_S3B, [-0.05, 0.51], T_B),
    ("3. farmland\n(Band 1)", P5_ORIG, P5_S1, P5_S2, P5_S2_SPIKES, P5_S3, P5_S3B, [-0.02, 0.21], T_A),
    ("3. farmland\n(Band 2)", P6_ORIG, P6_S1, P6_S2, P6_S2_SPIKES, P6_S3, P6_S3B, [-0.05, 0.51], T_B),
    ("4. lake\n(Band 1)", P7_ORIG, P7_S1, P7_S2, P7_S2_SPIKES, P7_S3, P7_S3B, [-0.02, 0.145], T_D),
    ("4. lake\n(Band 2)", P8_ORIG, P8_S1, P8_S2, P8_S2_SPIKES, P8_S3, P8_S3B, [-0.02, 0.21], T_A),
    ("5. bush\n(Band 1)", P9_ORIG, P9_S1, P9_S2, P9_S2_SPIKES, P9_S3, P9_S3B, [-0.02, 0.142], T_D),
    ("5. bush\n(Band 2)", P10_ORIG, P10_S1, P10_S2, P10_S2_SPIKES, P10_S3, P10_S3B, [-0.05, 0.51], T_B),
    ("6. city\n(Band 1)", P11_ORIG, P11_S1, P11_S2, P11_S2_SPIKES, P11_S3, P11_S3B, [-0.02, 0.26], T_E),
    ("6. city\n(Band 2)", P12_ORIG, P12_S1, P12_S2, P12_S2_SPIKES, P12_S3, P12_S3B, [-0.05, 0.46], T_F),
]

W, H = 546, 270


def make_panel(label, orig, step1, s2_vals, s2_spikes, s3_vals, s3b_vals, ydomain, yticks):
    orig_days = {d for d, _ in orig}
    s1_days = {d for d, _ in step1}
    recs = []
    for d in DAYS:
        if d not in orig_days:
            recs.append({"day": d, "value": 0.0, "series": "original"})
    for d, v in orig:
        recs.append({"day": d, "value": v, "series": "original"})
    for d in DAYS:
        if d not in orig_days and d not in s1_days:
            recs.append({"day": d, "value": 0.0, "series": "step 1"})
    for d, v in step1:
        recs.append({"day": d, "value": v, "series": "step 1"})
    pts = pd.DataFrame(recs)

    s2 = sorted([(d, v) for d, v in zip(DAYS_STEP2, s2_vals)] + [(d, v) for d, v in s2_spikes],
                key=lambda t: t[0])
    s2df = pd.DataFrame(s2, columns=["day", "value"])
    s3 = sorted(list(zip(DAYS_STEP3, s3_vals)) + list(zip(DAYS_STEP3B, s3b_vals)), key=lambda t: t[0])
    s3df = pd.DataFrame(s3, columns=["day", "value"])

    xs = alt.Scale(domain=[0, 365], nice=False, zero=False)
    ys = alt.Scale(domain=ydomain, nice=False, zero=False)
    xax = alt.Axis(values=X_TICKS, labelPadding=0, labelFlush=False, labelOverlap=False)
    yax = alt.Axis(values=yticks, labelPadding=2, labelOverlap=False,
                   labelExpr="toString(round(datum.value*1000)/1000)")
    X = alt.X("day:Q", scale=xs, axis=xax, title=None)
    Y = alt.Y("value:Q", scale=ys, axis=yax, title=None)

    leg = alt.Legend(title=None, orient="top-right", offset=5, padding=0, rowPadding=2,
                     labelOffset=3, labelFont=FONT, labelFontSize=15, labelFontWeight="bold",
                     labelColor="black")

    points = alt.Chart(pts).mark_point(filled=False, opacity=1, clip=True).encode(
        x=X, y=Y,
        color=alt.Color("series:N", scale=alt.Scale(domain=SERIES, range=SERIES_COLORS), legend=leg),
        fill=alt.Fill("series:N", scale=alt.Scale(domain=SERIES, range=SERIES_FILLS), legend=leg),
        shape=alt.Shape("series:N", scale=alt.Scale(domain=SERIES, range=SERIES_SHAPES), legend=leg),
        size=alt.Size("series:N", scale=alt.Scale(type="ordinal", domain=SERIES, range=SERIES_SIZES), legend=leg),
        strokeWidth=alt.StrokeWidth("series:N", scale=alt.Scale(type="ordinal", domain=SERIES, range=SERIES_STROKES), legend=leg),
    )
    blue = alt.Chart(s2df).mark_line(color="#0000ff", strokeWidth=1.6, clip=True).encode(x=X, y=Y)
    green = alt.Chart(s3df).mark_line(color="#00ff00", strokeWidth=1.0, clip=True).encode(x=X, y=Y)
    text = alt.Chart(pd.DataFrame({"label": [label]})).mark_text(
        align="left", baseline="top", font=FONT, fontSize=15, fontWeight="bold",
        lineBreak="\n", lineHeight=17, color="black"
    ).encode(x=alt.value(8), y=alt.value(6), text="label:N")
    return alt.layer(points, blue, green, text).properties(width=W, height=H)


panels = [make_panel(*p) for p in PANELS]

chart = alt.concat(*panels, columns=2, spacing={"row": 22, "column": 29}, bounds="flush").resolve_scale(
    x="independent", y="independent", color="independent", fill="independent",
    shape="independent", size="independent", strokeWidth="independent"
).resolve_legend(
    color="independent", fill="independent", shape="independent", size="independent",
    strokeWidth="independent"
).properties(
    padding={"left": 6, "top": 10, "right": 0, "bottom": 0}, background="white"
).configure_view(
    stroke="#8a8a8a", strokeWidth=1
).configure_axis(
    labelFont=FONT, labelFontSize=15, labelFontWeight="bold", labelColor="black",
    ticks=False, domain=False, grid=False
)

chart.save("out.html", embed_options={"renderer": "svg", "actions": False})
